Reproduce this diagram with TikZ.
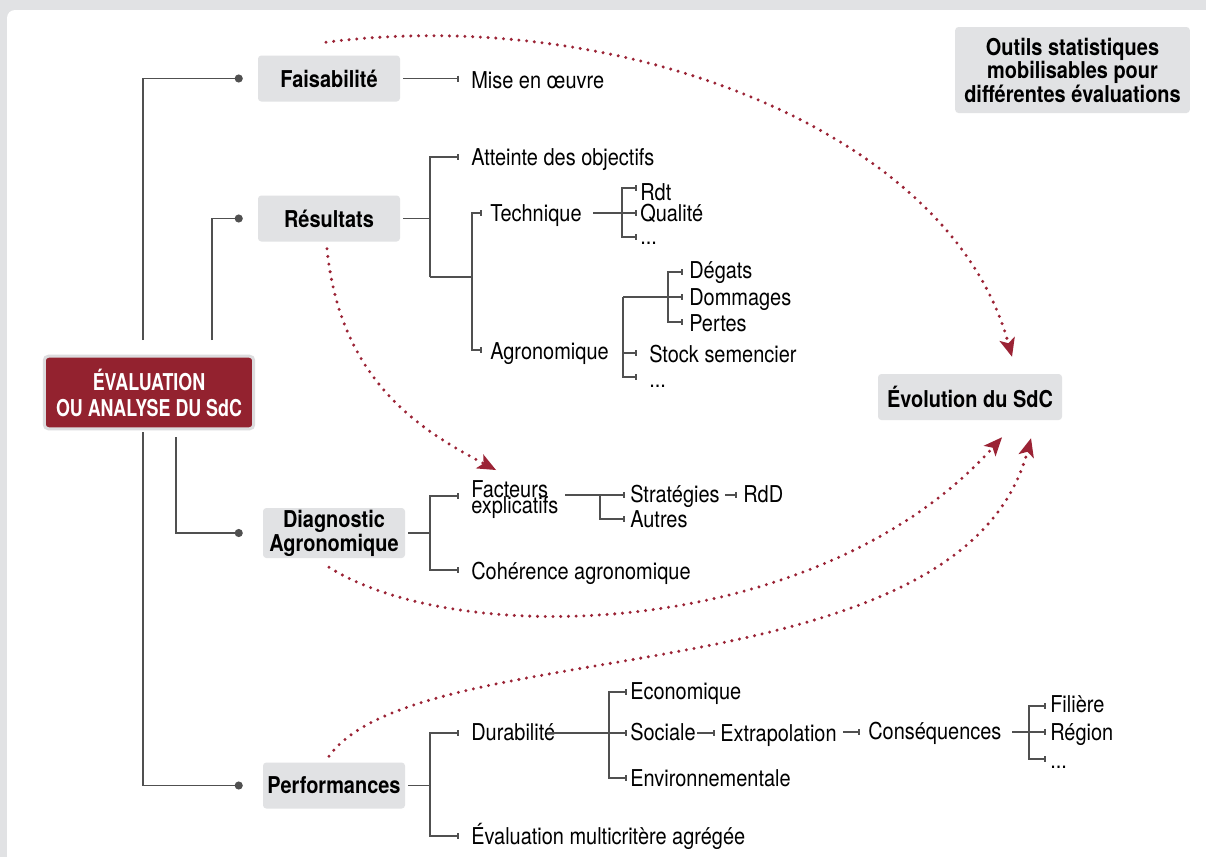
\documentclass[tikz,border=0pt]{standalone}
\usepackage{fontspec}
\setmainfont{TeX Gyre Heros}[FakeStretch=0.86]
\newfontfamily\narrowfont{TeX Gyre Heros}[FakeStretch=0.77]
\usetikzlibrary{arrows.meta}
\definecolor{bg}{HTML}{E1E2E4}
\definecolor{boxg}{HTML}{E1E2E4}
\definecolor{evred}{HTML}{93222F}
\definecolor{evborder}{HTML}{DCDCDE}
\definecolor{arr}{HTML}{9B2335}
\definecolor{ln}{HTML}{505050}
\begin{document}
\begin{tikzpicture}[x=0.75pt,y=-0.75pt,
  lbl/.style={font=\fontsize{17.4}{17.6}\selectfont, inner sep=0pt, anchor=base west},
  box/.style={fill=boxg, rounded corners=2.5pt, font=\fontsize{17.4}{18}\selectfont\bfseries,
    inner sep=0pt, minimum width=106.5pt, minimum height=34.5pt, align=center},
  evbox/.style={fill=evred, draw=evborder, line width=2.25pt, rounded corners=3pt, text=white,
    font=\narrowfont\fontsize{17.4}{19.5}\selectfont\bfseries, minimum width=157pt,
    minimum height=54.4pt, align=center, inner sep=0pt},
  tree/.style={draw=ln, line width=1.15pt},
  tk/.style={-{Bar[width=4.5pt]}},
  mainl/.style={draw=ln, line width=1.4pt, -{Circle[length=6pt]}},
  dotarr/.style={draw=arr, line width=2.5pt, line cap=round, dash pattern=on 0pt off 5.8pt,
    -{Stealth[length=14pt,width=12pt,inset=3.5pt,line width=0pt]}}
]
\useasboundingbox (0,0) rectangle (1206,857);
\fill[bg] (0,0) rectangle (1206,857);
\fill[white, rounded corners=6pt] (7,10) rectangle (1240,890);

% boxes
\node[box] (fais) at (329,78.5) {Faisabilité};
\node[box] (res) at (329,218.5) {Résultats};
\node[box, minimum height=37.5pt] (diag) at (334,533) {Diagnostic\\Agronomique};
\node[box] (perf) at (334,785.5) {Performances};
\node[box, minimum width=138pt] (evol) at (970,397) {Évolution du SdC};
\node[box, minimum width=176pt, minimum height=64.5pt,
  font=\fontsize{17.4}{17.6}\selectfont\bfseries] (outils) at (1072.5,70)
  {Outils statistiques\\mobilisables pour\\différentes évaluations};
\node[evbox] (ev) at (149,392.5) {ÉVALUATION\\OU ANALYSE DU SdC};

% leaves
\node[lbl] (mise) at (471,88) {Mise en œuvre};
\node[lbl] (att) at (471,165) {Atteinte des objectifs};
\node[lbl] (tech) at (490,221) {Technique};
\node[lbl] (agro) at (490,359) {Agronomique};
\node[lbl] (rdt) at (640,200) {Rdt};
\node[lbl] (qual) at (640,221) {Qualité};
\node[lbl] (dotsA) at (640,244) {...};
\node[lbl] (deg) at (689,278) {Dégats};
\node[lbl] (dom) at (689,305) {Dommages};
\node[lbl] (pert) at (689,331) {Pertes};
\node[lbl] (stock) at (649,362) {Stock semencier};
\node[lbl] (dotsB) at (649,387) {...};
\node[lbl, anchor=north west, align=left] (fact) at (471,480) {Facteurs\\[-5pt]explicatifs};
\node[lbl] (strat) at (630,502) {Stratégies};
\node[lbl] (rdd) at (743,502) {RdD};
\node[lbl] (autres) at (630,527) {Autres};
\node[lbl] (coh) at (471,579) {Cohérence agronomique};
\node[lbl] (dura) at (471,740) {Durabilité};
\node[lbl] (eco) at (630,699) {Economique};
\node[lbl] (soc) at (630,740) {Sociale};
\node[lbl] (env) at (630,786) {Environnementale};
\node[lbl] (evm) at (471,844) {Évaluation multicritère agrégée};
\node[lbl] (extra) at (720,741) {Extrapolation};
\node[lbl] (cons) at (868,739) {Conséquences};
\node[lbl] (fil) at (1050,712) {Filière};
\node[lbl] (reg) at (1050,740) {Région};
\node[lbl] (dotsC) at (1050,768) {...};

% main connectors from the evaluation box
\draw[mainl] ([xshift=-4.5pt,yshift=11pt]ev.north) |- ([xshift=-11.25pt]fais.west);
\draw[mainl] ([xshift=47.25pt,yshift=11pt]ev.north) |- ([xshift=-11.25pt]res.west);
\draw[mainl] ([xshift=20.25pt,yshift=-5.25pt]ev.south) |- ([xshift=-15pt]diag.west);
\draw[mainl] ([xshift=-4.5pt,yshift=-1.5pt]ev.south) |- ([xshift=-15pt]perf.west);

% tick coordinates
\coordinate (kMise) at (459,78.5);
\coordinate (rA) at (430,218.5);
\coordinate (rB) at (430,277);
\coordinate (rC) at (472,277);
\coordinate (kAtt) at (459,157);
\coordinate (kTech) at (482,213);
\coordinate (kAgro) at (482,350);
\coordinate (tA) at (593,213);
\coordinate (tB) at (622,213);
\coordinate (kRdt) at (637,188);
\coordinate (kQual) at (637,213);
\coordinate (kDotsA) at (637,237);
\coordinate (aA) at (623,297);
\coordinate (aB) at (668,297);
\coordinate (kDom) at (683,297);
\coordinate (kDeg) at (683,272);
\coordinate (kPer) at (683,322);
\coordinate (kStock) at (637,353);
\coordinate (kDotsB) at (637,377);
\coordinate (dA) at (430,533);
\coordinate (kFact) at (459,496);
\coordinate (kCoh) at (459,570);
\coordinate (fA) at (565,495);
\coordinate (fB) at (600,495);
\coordinate (kStrat) at (625,495);
\coordinate (kAutres) at (625,519);
\coordinate (sA) at (725,495);
\coordinate (kRdd) at (737,495);
\coordinate (pA) at (430,785.5);
\coordinate (kDura) at (459,733);
\coordinate (kEvm) at (459,836);
\coordinate (uA) at (547,733);
\coordinate (uB) at (609,733);
\coordinate (kSoc) at (627,733);
\coordinate (kEco) at (627,692);
\coordinate (kEnv) at (627,778);
\coordinate (xA) at (697,733);
\coordinate (kExtra) at (715,733);
\coordinate (xB) at (843,732);
\coordinate (kCons) at (860,732);
\coordinate (cA) at (1012,732);
\coordinate (cB) at (1029,732);
\coordinate (kReg) at (1046,732);
\coordinate (kFil) at (1046,706);
\coordinate (kDotsC) at (1046,759);

% Faisabilité
\draw[tree,tk] ([xshift=2.25pt]fais.east) -- (kMise);
% Résultats
\draw[tree] ([xshift=2.25pt]res.east) -- (rA);
\draw[tree,tk] (rB) |- (kAtt);
\draw[tree] (rB) -- (rC);
\draw[tree,tk] (rC) |- (kTech);
\draw[tree,tk] (rC) |- (kAgro);
\draw[tree] (tA) -- (tB);
\draw[tree,tk] (tB) |- (kRdt);
\draw[tree,tk] (tB) -- (kQual);
\draw[tree,tk] (tB) |- (kDotsA);
\draw[tree,tk] (aA) -- (kDom);
\draw[tree,tk] (aB) |- (kDeg);
\draw[tree,tk] (aB) |- (kPer);
\draw[tree,tk] (aA) |- (kStock);
\draw[tree,tk] (aA) |- (kDotsB);
% Diagnostic
\draw[tree] ([xshift=2.25pt]diag.east) -- (dA);
\draw[tree,tk] (dA) |- (kFact);
\draw[tree,tk] (dA) |- (kCoh);
\draw[tree,tk] (fA) -- (kStrat);
\draw[tree,tk] (fB) |- (kAutres);
\draw[tree,tk] (sA) -- (kRdd);
% Performances
\draw[tree] ([xshift=2.25pt]perf.east) -- (pA);
\draw[tree,tk] (pA) |- (kDura);
\draw[tree,tk] (pA) |- (kEvm);
\draw[tree,tk] (uA) -- (kSoc);
\draw[tree,tk] (uB) |- (kEco);
\draw[tree,tk] (uB) |- (kEnv);
\draw[tree,tk] (xA) -- (kExtra);
\draw[tree,tk] (xB) -- (kCons);
\draw[tree,tk] (cA) -- (kReg);
\draw[tree,tk] (cB) |- (kFil);
\draw[tree,tk] (cB) |- (kDotsC);

% dotted arrows
\draw[dotarr] ([xshift=-2.25pt,yshift=9.75pt]fais.north) .. controls (620,5) and (950,130) .. ([xshift=31.5pt,yshift=12.75pt]evol.north);
\draw[dotarr] ([xshift=-1.5pt,yshift=-5.25pt]res.south) .. controls (340,380) and (420,430) .. ([xshift=18.75pt,yshift=7.5pt]fact.north west);
\draw[dotarr] ([xshift=-3.75pt,yshift=-6.75pt]diag.south) .. controls (460,650) and (820,640) .. ([xshift=24pt,yshift=-12.75pt]evol.south);
\draw[dotarr] ([xshift=-3.75pt,yshift=4.5pt]perf.north) .. controls (420,630) and (960,700) .. ([xshift=45.75pt,yshift=-13.5pt]evol.south);
\end{tikzpicture}
\end{document}
